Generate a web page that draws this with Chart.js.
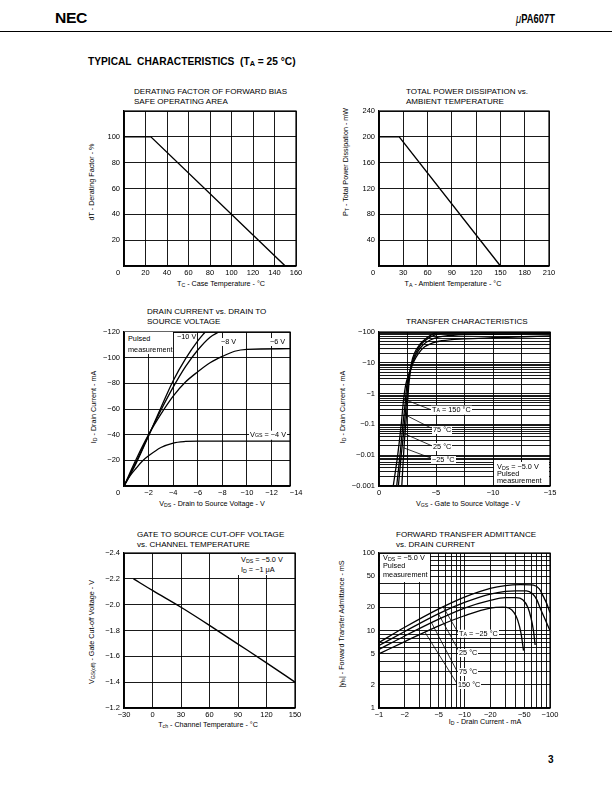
<!DOCTYPE html>
<html><head><meta charset="utf-8">
<script src="https://cdn.jsdelivr.net/npm/chart.js@4.4.1/dist/chart.umd.min.js"></script>
<style>
body{margin:0;background:#fff;}
#page{position:relative;width:612px;height:792px;overflow:hidden;font-family:"Liberation Sans",Arial,Helvetica,sans-serif;color:#000;background:#fff;}
.t{position:absolute;white-space:pre;line-height:1;}
.ct{position:absolute;font-size:8.05px;line-height:9.5px;white-space:pre;}
.ax{position:absolute;font-size:7.2px;white-space:pre;line-height:1;transform:translate(-50%,-50%);}
.ay{position:absolute;font-size:7.2px;white-space:pre;line-height:1;transform:translate(-50%,-50%) rotate(-90deg);}
.lb{position:absolute;font-size:7.3px;white-space:pre;background:#fff;line-height:8px;padding:0 1px;transform:translateY(-50%);z-index:3;}
.box{position:absolute;background:#fff;font-size:7.3px;white-space:pre;z-index:3;}
.box div{position:absolute;left:3px;line-height:1;transform:translateY(-50%);}
.sb{font-size:72%;vertical-align:-0.12em;}
canvas{position:absolute;z-index:1;}
</style></head>
<body><div id="page">
<!-- header -->
<div class="t" style="left:55px;top:11px;font-size:14px;font-weight:bold;transform:scaleX(1.12);transform-origin:left top;letter-spacing:-0.3px;">NEC</div>
<div class="t" style="right:57px;top:12px;font-size:13px;font-weight:bold;transform:scaleX(0.72);transform-origin:right top;"><span style="font-weight:normal;font-style:italic;">μ</span>PA607T</div>
<div style="position:absolute;left:0;top:31px;width:612px;height:1px;background:#000;"></div>
<div class="t" style="left:88px;top:57px;font-size:10.2px;font-weight:bold;">TYPICAL  CHARACTERISTICS  (T<span class="sb">A</span> = 25 °C)</div>
<div class="t" style="left:548px;top:755px;font-size:10px;font-weight:bold;">3</div>

<!-- chart titles -->
<div class="ct" style="left:134px;top:87px;">DERATING FACTOR OF FORWARD BIAS
SAFE OPERATING AREA</div>
<div class="ct" style="left:406px;top:87px;">TOTAL POWER DISSIPATION vs.
AMBIENT TEMPERATURE</div>
<div class="ct" style="left:147px;top:307px;">DRAIN CURRENT vs. DRAIN TO
SOURCE VOLTAGE</div>
<div class="ct" style="left:406px;top:317px;">TRANSFER CHARACTERISTICS</div>
<div class="ct" style="left:137px;top:530px;">GATE TO SOURCE CUT-OFF VOLTAGE
vs. CHANNEL TEMPERATURE</div>
<div class="ct" style="left:396px;top:530px;">FORWARD TRANSFER ADMITTANCE
vs. DRAIN CURRENT</div>

<!-- axis titles -->
<div class="ax" style="left:221px;top:284px;">T<span class="sb">C</span> - Case Temperature - °C</div>
<div class="ay" style="left:92px;top:182px;">dT - Derating Factor - %</div>
<div class="ax" style="left:453px;top:284px;">T<span class="sb">A</span> - Ambient Temperature - °C</div>
<div class="ay" style="left:346px;top:162px;">P<span class="sb">T</span> - Total Power Dissipation - mW</div>
<div class="ax" style="left:212px;top:504px;">V<span class="sb">DS</span> - Drain to Source Voltage - V</div>
<div class="ay" style="left:94px;top:407px;">I<span class="sb">D</span> - Drain Current - mA</div>
<div class="ax" style="left:468px;top:504px;">V<span class="sb">GS</span> - Gate to Source Voltage - V</div>
<div class="ay" style="left:343px;top:407px;">I<span class="sb">D</span> - Drain Current - mA</div>
<div class="ax" style="left:208px;top:725px;">T<span class="sb">ch</span> - Channel Temperature - °C</div>
<div class="ay" style="left:92px;top:632px;">V<span class="sb">GS(off)</span> - Gate Cut-off Voltage - V</div>
<div class="ax" style="left:485px;top:722px;">I<span class="sb">D</span> - Drain Current - mA</div>
<div class="ay" style="left:342px;top:624px;">|y<span class="sb">fs</span>| - Forward Transfer Admittance - mS</div>

<!-- chart 3 annotations -->
<div class="box" style="left:125px;top:332px;width:48px;height:22px;"><div style="top:7px;">Pulsed</div><div style="top:17.5px;">measurement</div></div>
<div class="lb" style="left:176px;top:337px;">−10 V</div>
<div class="lb" style="left:220px;top:342px;">−8 V</div>
<div class="lb" style="left:269px;top:342px;">−6 V</div>
<div class="lb" style="left:249px;top:435px;">V<span class="sb">GS</span> = −4 V</div>

<!-- chart 4 annotations -->
<div class="lb" style="left:431px;top:410px;">T<span class="sb">A</span> = 150 °C</div>
<div class="lb" style="left:432px;top:429.5px;">75 °C</div>
<div class="lb" style="left:432px;top:447px;">25 °C</div>
<div class="lb" style="left:431px;top:460px;">−25 °C</div>
<div class="box" style="left:494px;top:462px;width:55px;height:23px;"><div style="top:4.5px;">V<span class="sb">DS</span> = −5.0 V</div><div style="top:12px;">Pulsed</div><div style="top:19px;">measurement</div></div>

<!-- chart 5 annotations -->
<div class="box" style="left:238px;top:554px;width:56px;height:21px;"><div style="top:5.5px;">V<span class="sb">DS</span> = −5.0 V</div><div style="top:16px;">I<span class="sb">D</span> = −1 μA</div></div>

<!-- chart 6 annotations -->
<div class="box" style="left:380px;top:554px;width:50px;height:28px;"><div style="top:4px;">V<span class="sb">DS</span> = −5.0 V</div><div style="top:12px;">Pulsed</div><div style="top:20.5px;">measurement</div></div>
<div class="lb" style="left:458px;top:633.5px;">T<span class="sb">A</span> = −25 °C</div>
<div class="lb" style="left:458px;top:652.5px;">25 °C</div>
<div class="lb" style="left:458px;top:671.5px;">75 °C</div>
<div class="lb" style="left:457px;top:684.5px;">150 °C</div>
</div>
<script>
// ---------------- DATA ----------------
// Chart 1: derating factor vs case temperature
const c1CaseTemp = [0, 25, 150];
const c1Derating = [100, 100, 0];
const c1XLabels = ['20','40','60','80','100','120','140','160'];
const c1YLabels = ['20','40','60','80','100'];

// Chart 2: total power dissipation vs ambient temperature
const c2AmbTemp = [0, 25, 150];
const c2Power = [200, 200, 0];
const c2XLabels = ['30','60','90','120','150','180','210'];
const c2YLabels = ['40','80','120','160','200','240'];

// Chart 3: drain current vs drain-source voltage (VGS curves)
const c3Vds_m10 = [0, -1, -2, -3, -4, -5, -6, -6.6];
const c3Id_m10  = [0, -18, -39, -61, -82, -99, -113, -120];
const c3Vds_m8  = [0, -1, -2, -3, -4, -5, -6, -7, -7.7];
const c3Id_m8   = [0, -19, -39.5, -59, -77, -93, -106, -116, -120];
const c3Vds_m6  = [0, -1, -2, -3, -4, -5, -6, -7, -8, -9, -10, -13.5];
const c3Id_m6   = [0, -21, -40, -56, -70, -81, -89, -96, -101, -105, -106.5, -107];
const c3Vds_m4  = [0, -0.5, -1, -1.5, -2, -3, -4, -5, -6, -13.5];
const c3Id_m4   = [0, -8, -14, -19.5, -23.5, -30, -33.5, -34.7, -35, -35];
const c3XLabels = ['−2','−4','−6','−8','−10','−12','−14'];
const c3YLabels = ['−20','−40','−60','−80','−100','−120'];

// Chart 4: transfer characteristics (ID vs VGS)
const c4Vgs_m25 = [-2.0, -2.2, -2.35, -2.5, -2.62, -2.75, -2.85, -3.1, -3.6, -4.2, -4.8, -5.4, -6.5, -15];
const c4Id_m25  = [-0.001, -0.02, -0.1, -0.5, -2, -5, -10, -20, -40, -65, -88, -105, -120, -125];
const c4Vgs_25  = [-1.7, -1.95, -2.15, -2.3, -2.48, -2.65, -2.9, -3.2, -3.7, -4.3, -5.0, -6.0, -8, -15];
const c4Id_25   = [-0.001, -0.01, -0.05, -0.2, -1, -4, -10, -20, -40, -62, -82, -93, -96, -96];
const c4Vgs_75  = [-1.55, -1.84, -2.1, -2.3, -2.45, -2.7, -2.95, -3.3, -3.85, -4.5, -5.2, -6.5, -10, -15];
const c4Id_75   = [-0.001, -0.01, -0.1, -0.5, -2, -5, -10, -20, -38, -55, -68, -78, -84, -88];
const c4Vgs_150 = [-1.25, -1.64, -1.95, -2.15, -2.35, -2.7, -3.0, -3.45, -4.0, -4.7, -5.5, -7.5, -10, -15];
const c4Id_150  = [-0.001, -0.01, -0.1, -0.6, -2, -5, -10, -20, -33, -44, -52, -60, -65, -75];
const c4LeaderVgs = [[-2.14, -4.62], [-2.2, -4.62], [-2.14, -4.62], [-2.14, -4.62]];
const c4LeaderId  = [[-0.668, -0.294], [-0.213, -0.0747], [-0.0514, -0.0203], [-0.0175, -0.0079]];
const c4XLabels = ['0','−5','−10','−15'];
const c4YLabels = ['−0.001','−0.01','−0.1','−1','−10','−100'];

// Chart 5: gate cut-off voltage vs channel temperature
const c5Tch = [-20, 0, 30, 60, 90, 120, 150];
const c5VgsOff = [-2.2, -2.11, -1.98, -1.84, -1.695, -1.55, -1.4];
const c5XLabels = ['−30','0','30','60','90','120','150'];
const c5YLabels = ['−1.2','−1.4','−1.6','−1.8','−2.0','−2.2','−2.4'];

// Chart 6: forward transfer admittance vs drain current
const c6Id_m25  = [-1, -2, -5, -10, -20, -30, -45, -64, -75, -83, -92, -100];
const c6Yfs_m25 = [7, 11, 19, 27, 35, 38, 39, 38.5, 34.5, 28, 22, 17];
const c6Id_25   = [-1, -2, -5, -10, -20, -30, -40, -53, -62, -70, -76, -85, -100];
const c6Yfs_25  = [6.4, 9.7, 16.5, 23, 29.5, 32, 32.5, 32.5, 30, 25, 20, 15, 10];
const c6Id_75   = [-1, -2, -5, -10, -20, -30, -40, -48, -55, -60, -64, -67];
const c6Yfs_75  = [5.7, 8.5, 14, 19.5, 24.5, 26.5, 26.5, 25, 20, 14.5, 10, 6.5];
const c6Id_150  = [-1, -2, -5, -10, -20, -28, -33, -38, -42, -46, -49];
const c6Yfs_150 = [5, 7.2, 11.5, 15.5, 19.5, 20, 19.5, 17, 13.5, 9, 5.5];
const c6LeaderId  = [[-5.65, -8.46], [-4.94, -8.7], [-4.13, -8.24], [-3.45, -8.24]];
const c6LeaderYfs = [[20, 9.3], [16.5, 5.3], [12.5, 2.94], [9.5, 2.04]];
const c6XLabels = ['−1','−2','−5','−10','−20','−50','−100'];
const c6YLabels = ['1','2','5','10','20','50','100'];

// ---------------- HELPERS ----------------
const FONT = "'Liberation Sans', Arial, Helvetica, sans-serif";
const TICK = 7.5;
const PADL = 44, PADT = 12, PADR = 16, PADB = 22;
const num = s => parseFloat(s.replace('−', '-'));

function linGrid(a, b, step) {
  const out = []; const n = Math.round((b - a) / step);
  for (let i = 0; i <= n; i++) out.push(+(a + i * step).toFixed(6));
  return out;
}
function logGrid(a, b) {
  const out = [];
  for (let e = Math.floor(Math.log10(a)); e <= Math.ceil(Math.log10(b)); e++)
    for (let m = 1; m < 10; m++) {
      const v = +(m * Math.pow(10, e)).toPrecision(10);
      if (v >= a * 0.9999 && v <= b * 1.0001) out.push(v);
    }
  return out;
}
function axis(o) {
  const vals = o.labels.map(s => o.log ? Math.abs(num(s)) : num(s));
  return {
    type: o.log ? 'logarithmic' : 'linear',
    position: o.horiz ? 'bottom' : 'left',
    min: o.min, max: o.max, reverse: !!o.reverse,
    afterBuildTicks: s => { s.ticks = o.grid.map(v => ({ value: v })); },
    afterFit: s => { if (o.horiz) s.height = PADB; else s.width = PADL; },
    grid: { color: '#000', lineWidth: 0.9, drawTicks: false },
    border: { display: true, color: '#000', width: 1.2 },
    ticks: {
      autoSkip: false, maxRotation: 0, minRotation: 0, color: '#000',
      font: { family: FONT, size: TICK }, padding: o.horiz ? 2.5 : 4,
      callback: v => {
        const i = vals.findIndex(l => Math.abs(l - v) <= 1e-6 * Math.abs(l) + 1e-12);
        return i >= 0 ? o.labels[i] : '';
      }
    }
  };
}
function series(xs, ys, o = {}) {
  return {
    data: xs.map((x, i) => ({ x: o.absX ? Math.abs(x) : x, y: o.absY ? Math.abs(ys[i]) : ys[i] })),
    borderColor: '#000', borderWidth: o.w || 1.3, pointRadius: 0, showLine: true, fill: false,
    cubicInterpolationMode: o.straight ? 'default' : 'monotone', tension: 0
  };
}
const framePlugin = {
  id: 'frame',
  afterDraw(chart, args, o) {
    const { ctx, chartArea: a, scales: { x } } = chart;
    ctx.save();
    ctx.strokeStyle = '#000'; ctx.lineWidth = 1.2;
    ctx.strokeRect(a.left, a.top, a.right - a.left, a.bottom - a.top);
    ctx.fillStyle = '#000'; ctx.font = TICK + 'px ' + FONT;
    ctx.textAlign = 'center'; ctx.textBaseline = 'middle';
    if (o.corner) ctx.fillText(o.corner, a.left - 6, a.bottom + 7);
    (o.extraX || []).forEach(t => ctx.fillText(t, x.getPixelForValue(num(t)), a.bottom + 7));
    ctx.restore();
  }
};
function plot(area, datasets, xAxis, yAxis, frame) {
  const w = area.r - area.l + PADL + PADR, h = area.b - area.t + PADT + PADB;
  const cv = document.createElement('canvas');
  cv.width = w; cv.height = h;
  cv.style.left = (area.l - PADL) + 'px'; cv.style.top = (area.t - PADT) + 'px';
  cv.style.width = w + 'px'; cv.style.height = h + 'px';
  document.getElementById('page').appendChild(cv);
  new Chart(cv, {
    type: 'scatter',
    data: { datasets },
    options: {
      responsive: false, animation: false, devicePixelRatio: 1, events: [],
      layout: { padding: { left: 0, top: PADT, right: PADR, bottom: 0 } },
      plugins: { legend: { display: false }, tooltip: { enabled: false }, frame: frame || {} },
      scales: { x: xAxis, y: yAxis }
    },
    plugins: [framePlugin]
  });
}

// ---------------- CHARTS ----------------
// Chart 1
plot({ l: 124, r: 296, t: 111, b: 266 },
  [series(c1CaseTemp, c1Derating, { straight: true, w: 1.4 })],
  axis({ horiz: true, min: 0, max: 160, grid: linGrid(0, 160, 20), labels: c1XLabels }),
  axis({ min: 0, max: 120, grid: linGrid(0, 120, 20), labels: c1YLabels }),
  { corner: '0' });

// Chart 2
plot({ l: 379, r: 549, t: 111, b: 266 },
  [series(c2AmbTemp, c2Power, { straight: true, w: 1.4 })],
  axis({ horiz: true, min: 0, max: 210, grid: linGrid(0, 210, 30), labels: c2XLabels }),
  axis({ min: 0, max: 240, grid: linGrid(0, 240, 40), labels: c2YLabels }),
  { corner: '0' });

// Chart 3
const c3XMin = -13.5;
plot({ l: 124, r: 290, t: 332, b: 486 },
  [series(c3Vds_m10, c3Id_m10), series(c3Vds_m8, c3Id_m8), series(c3Vds_m6, c3Id_m6), series(c3Vds_m4, c3Id_m4)],
  axis({ horiz: true, min: c3XMin, max: 0, reverse: true, grid: [c3XMin].concat(linGrid(-12, 0, 2)), labels: c3XLabels }),
  axis({ min: -120, max: 0, reverse: true, grid: linGrid(-120, 0, 20), labels: c3YLabels }),
  { corner: '0', extraX: c3XLabels.filter(s => num(s) < c3XMin) });

// Chart 4
const c4Sets = [
  series(c4Vgs_m25, c4Id_m25, { absY: true }), series(c4Vgs_25, c4Id_25, { absY: true }),
  series(c4Vgs_75, c4Id_75, { absY: true }), series(c4Vgs_150, c4Id_150, { absY: true })
].concat(c4LeaderVgs.map((xs, i) => series(xs, c4LeaderId[i], { absY: true, straight: true, w: 0.8 })));
plot({ l: 379, r: 550, t: 332, b: 486 }, c4Sets,
  axis({ horiz: true, min: -15, max: 0, reverse: true, grid: linGrid(-15, 0, 2.5), labels: c4XLabels }),
  axis({ log: true, min: 0.001, max: 100, grid: logGrid(0.001, 100), labels: c4YLabels }));

// Chart 5
plot({ l: 124, r: 295, t: 553, b: 708 },
  [series(c5Tch, c5VgsOff, { w: 1.4 })],
  axis({ horiz: true, min: -30, max: 150, grid: linGrid(-30, 150, 30), labels: c5XLabels }),
  axis({ min: -2.4, max: -1.2, reverse: true, grid: linGrid(-2.4, -1.2, 0.2), labels: c5YLabels }));

// Chart 6
const c6Sets = [
  series(c6Id_m25, c6Yfs_m25, { absX: true }), series(c6Id_25, c6Yfs_25, { absX: true }),
  series(c6Id_75, c6Yfs_75, { absX: true }), series(c6Id_150, c6Yfs_150, { absX: true })
].concat(c6LeaderId.map((xs, i) => series(xs, c6LeaderYfs[i], { absX: true, straight: true, w: 0.8 })));
plot({ l: 379, r: 550, t: 553, b: 708 }, c6Sets,
  axis({ horiz: true, log: true, min: 1, max: 100, grid: logGrid(1, 100), labels: c6XLabels }),
  axis({ log: true, min: 1, max: 100, grid: logGrid(1, 100), labels: c6YLabels }));
</script>
</body></html>
